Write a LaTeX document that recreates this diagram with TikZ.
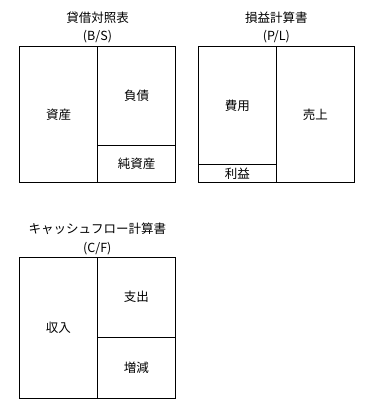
\documentclass[tikz,border=0pt]{standalone}
\usepackage{fontspec}
\setmainfont{Noto Sans CJK JP}
\usetikzlibrary{positioning}

\begin{document}
\begin{tikzpicture}[
    x=1pt, y=-1pt,
    cell/.style={
      draw,
      line width=1pt,
      inner sep=0pt,
      outer sep=0pt,
      minimum width=78pt,
      minimum height=#1,
      font=\fontsize{12.5}{15}\selectfont
    },
    ttl/.style={font=\fontsize{12.5}{15}\selectfont}
  ]
  \useasboundingbox (0,0) rectangle (381,419);

  % Balance sheet
  \node[ttl] (bsttl)  at (97.5,18) {貸借対照表};
  \node[ttl] (bsabbr) at (97.5,37) {(B/S)};
  \node[cell=136.3pt, anchor=north west] (asset) at (19.5,46.7) {資産};
  \node[cell=98.8pt, anchor=north west]  (liab)  at (asset.north east) {負債};
  \node[cell=37.5pt, anchor=north west]  (equity) at (liab.south west) {純資産};

  % Income statement
  \node[ttl] (plttl)  at (276.3,18) {損益計算書};
  \node[ttl] (plabbr) at (276.3,37) {(P/L)};
  \node[cell=117.6pt, anchor=north west] (cost)   at (198.3,46.7) {費用};
  \node[cell=18.7pt, anchor=north west]  (profit) at (cost.south west) {利益};
  \node[cell=136.3pt, anchor=north west] (sales)  at (cost.north east) {売上};

  % Cash flow statement
  \node[ttl] (cfttl)  at (97.3,229) {キャッシュフロー計算書};
  \node[ttl] (cfabbr) at (97.3,248.3) {(C/F)};
  \node[cell=141pt, anchor=north west]  (income) at (19.3,257.3) {収入};
  \node[cell=79.7pt, anchor=north west] (outgo)  at (income.north east) {支出};
  \node[cell=61.3pt, anchor=north west] (change) at (outgo.south west) {増減};

\end{tikzpicture}
\end{document}
